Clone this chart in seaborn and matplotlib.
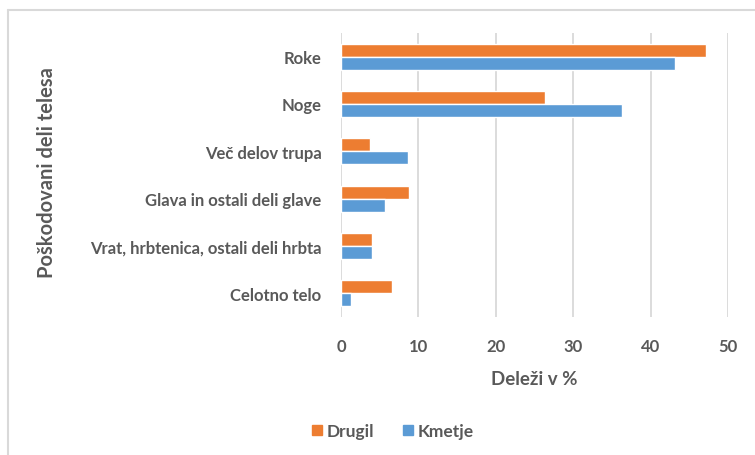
import pandas as pd
import seaborn as sns
import matplotlib
matplotlib.use('Agg')
import matplotlib.pyplot as plt
from matplotlib.lines import Line2D

categories = ["Roke", "Noge", "Več delov trupa", "Glava in ostali deli glave",
              "Vrat, hrbtenica, ostali deli hrbta", "Celotno telo"]
drugil = [47.1, 26.3, 3.7, 8.8, 4.0, 6.6]
kmetje = [43.2, 36.3, 8.7, 5.7, 4.0, 1.3]
series = ["Drugil", "Kmetje"]
xticks = [0, 10, 20, 30, 40, 50]

df = pd.DataFrame({
    "kategorija": categories * 2,
    "delez": drugil + kmetje,
    "skupina": [series[0]] * len(categories) + [series[1]] * len(categories),
})

sns.set_style("white")
plt.rcParams['font.family'] = ['Lato', 'DejaVu Sans']

txt = "#595959"
fig = plt.figure(figsize=(7.55, 4.56), dpi=100)
ax = fig.add_axes([341 / 755, 1 - 318 / 456, 387 / 755, 284 / 456])

sns.barplot(data=df, y="kategorija", x="delez", hue="skupina", order=categories,
            hue_order=series, palette=["#ED7D31", "#5B9BD5"], orient="h",
            width=0.55, saturation=1, ax=ax, legend=False)

ax.set_xlim(0, 50)
ax.set_xticks(xticks)
ax.set_xticklabels([str(t) for t in xticks])
ax.xaxis.grid(True, color="#D9D9D9", linewidth=1.3)
ax.set_axisbelow(True)
for s in ax.spines.values():
    s.set_visible(False)
ax.tick_params(axis="both", length=0, labelcolor=txt, labelsize=12)
ax.tick_params(axis="x", pad=15)
ax.tick_params(axis="y", pad=14)
for lab in ax.get_xticklabels() + ax.get_yticklabels():
    lab.set_fontweight("bold")

ax.set_xlabel("Deleži v %", fontsize=13.5, fontweight="bold", color=txt, labelpad=12)
ax.set_ylabel("")
fig.text(0.062, 1 - 173 / 456, "Poškodovani deli telesa", rotation=90, ha="center",
         va="center", fontsize=14.5, fontweight="bold", color=txt)

handles = [Line2D([], [], marker="s", linestyle="", markersize=7.5,
                  color=c) for c in ["#ED7D31", "#5B9BD5"]]
leg = fig.legend(handles, series, loc="center", bbox_to_anchor=(389 / 755, 1 - 432 / 456),
                 ncol=2, frameon=False, handletextpad=-0.2, columnspacing=1.2,
                 handlelength=1.5, prop={"size": 12.5, "weight": "bold"})
for t in leg.get_texts():
    t.set_color(txt)

# chart border (top and left only)
fig.add_artist(Line2D([8 / 755, 1], [1 - 11 / 456, 1 - 11 / 456], color="#D9D9D9", lw=1.5))
fig.add_artist(Line2D([8 / 755, 8 / 755], [0, 1 - 11 / 456], color="#D9D9D9", lw=1.5))

plt.savefig("out.png", dpi=100)
plt.close()
